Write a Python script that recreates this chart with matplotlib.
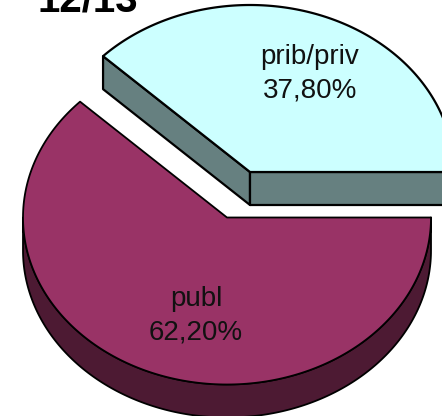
import numpy as np
import matplotlib
matplotlib.use("Agg")
import matplotlib.pyplot as plt
from matplotlib.patches import Polygon

plt.rcParams['font.family'] = ['Liberation Sans', 'DejaVu Sans']

title = "12/13"
labels = ["prib/priv", "publ"]
values = [37.80, 62.20]
value_labels = ["37,80%", "62,20%"]
top_colors = ["#CCFFFF", "#993366"]
side_colors = ["#668080", "#4D1A33"]
centers = [(250, 172), (227, 217.5)]
label_pos = [(310, 74), (196, 316)]
line_widths = [1.6, 1.3]

RX, RY, DEPTH = 204, 167, 33

fig = plt.figure(figsize=(4.42, 4.16), dpi=100)
ax = fig.add_axes([0, 0, 1, 1])
ax.set_xlim(0, 442)
ax.set_ylim(416, 0)
ax.axis('off')

def pt(c, t, dz=0):
    return c[0] + RX * np.cos(t), c[1] - RY * np.sin(t) + dz

total = sum(values)
for i, v in enumerate(values):
    if i == 0:
        a0, a1 = 0.0, v / total * 2 * np.pi
    else:
        a0, a1 = values[0] / total * 2 * np.pi, 2 * np.pi
    c = centers[i]
    ts = np.linspace(a0, a1, 200)
    x, y = pt(c, ts)
    kw = dict(edgecolor='black', linewidth=line_widths[i], joinstyle='round', zorder=2 + i)
    if i == 1:
        tw = np.linspace(np.pi, 2 * np.pi, 200)
        wx, wy = pt(c, tw)
        wall = np.r_[np.c_[wx, wy], np.c_[wx[::-1], wy[::-1] + DEPTH]]
        ax.add_patch(Polygon(wall, facecolor=side_colors[i], **kw))
    else:
        cx, cy = c
        for a in (a1, a0):
            ex, ey = pt(c, a)
            ax.add_patch(Polygon([(cx, cy), (ex, ey), (ex, ey + DEPTH), (cx, cy + DEPTH)],
                                 facecolor=side_colors[i], **kw))
    ax.add_patch(Polygon(np.r_[[c], np.c_[x, y]], facecolor=top_colors[i], **kw))
    ax.text(label_pos[i][0], label_pos[i][1], f"{labels[i]}\n{value_labels[i]}",
            ha='center', va='center', fontsize=20, linespacing=1.36, color='#111111', zorder=10)

ax.text(88, 11, title, ha='center', va='baseline', fontsize=29, fontweight='bold', zorder=10)
fig.savefig("out.png", dpi=100, facecolor='white')
